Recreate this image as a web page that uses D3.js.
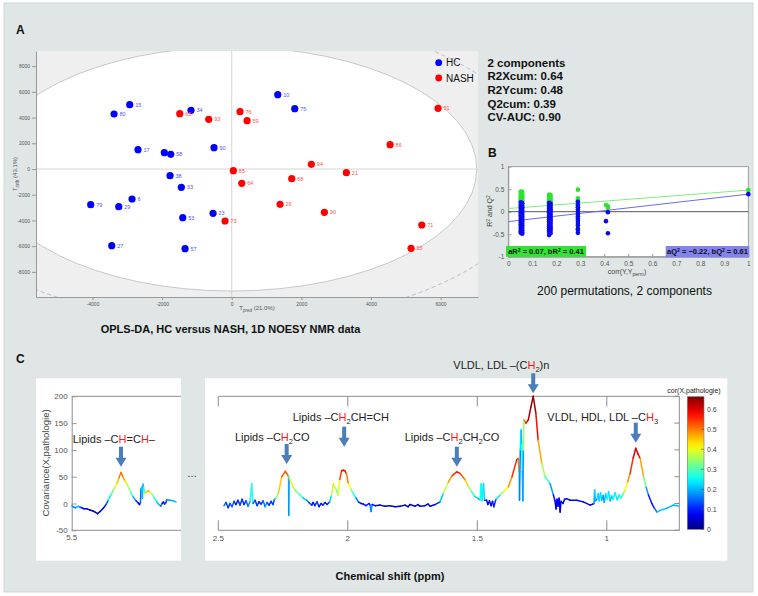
<!DOCTYPE html>
<html><head><meta charset="utf-8">
<script src="https://cdn.jsdelivr.net/npm/d3@7"></script>
<style>body{margin:0;background:#fff}svg{display:block;font-family:"Liberation Sans",Arial,Helvetica,sans-serif}</style>
</head><body><svg id="c" width="758" height="596"></svg>
<script>
// ---------------- DATA ----------------
// Panel A : OPLS-DA scores
const hcIds   = ["15","80","34","17","9","58","90","38","33","6","79","29","53","23","27","57","10","75"];
const hcTpred = [-2931,-3382,-1170,-2693,-1937,-1753,-509,-1773,-1448,-2865,-4052,-3247,-1408,-537,-3448,-1342,1322,1810];
const hcTorth = [5000,4277,4564,1500,1268,1143,1660,-521,-1423,-2333,-2776,-2931,-3787,-3445,-5964,-6197,5778,4689];
const nashIds   = ["65","93","76","59","51","86","94","85","21","68","64","26","30","73","71","55"];
const nashTpred = [-1494,-661,238,440,5928,4549,2287,46,3293,1724,287,1388,2661,-193,5460,5152];
const nashTorth = [4300,3865,4456,3756,4720,1890,365,-132,-288,-754,-1112,-2745,-3367,-4044,-4355,-6166];
const ellipseTpred = [7040, 8940];   // 95%, 99% Hotelling T2 semi-axes
const ellipseTorth = [9487, 12050];
const xTicksA = [-4000,-2000,0,2000,4000,6000];
const yTicksA = [-8000,-6000,-4000,-2000,0,2000,4000,6000,8000];
const statLines = ["2 components","R2Xcum: 0.64","R2Ycum: 0.48","Q2cum: 0.39","CV-AUC: 0.90"];

// Panel B : permutation test
const permX = [0.052, 0.058, 0.170, 0.176, 0.290, 0.407, 0.415, 1.000];
const r2Perm = [
  [0.45,0.42,0.38,0.34,0.30,0.27,0.24,0.21],
  [0.44,0.40,0.36,0.32,0.29,0.25,0.22,0.19],
  [0.38,0.35,0.31,0.27,0.24,0.21,0.18,0.15],
  [0.37,0.33,0.29,0.26,0.22,0.19,0.16],
  [0.49,0.30,0.26,0.22,0.18,0.14,0.10],
  [0.15],
  [0.12,0.09],
  [0.48]
];
const q2Perm = [
  [0.21,0.16,0.12,0.08,0.04,0.0,-0.04,-0.08,-0.12,-0.16,-0.2,-0.24,-0.28,-0.32,-0.36,-0.4,-0.44,-0.47],
  [0.19,0.14,0.1,0.06,0.02,-0.02,-0.06,-0.1,-0.14,-0.18,-0.22,-0.26,-0.3,-0.34,-0.38,-0.42,-0.46,-0.49],
  [0.2,0.15,0.11,0.07,0.03,-0.01,-0.05,-0.09,-0.13,-0.17,-0.21,-0.25,-0.29,-0.33,-0.37,-0.41,-0.45,-0.52],
  [0.18,0.13,0.09,0.05,0.01,-0.03,-0.07,-0.11,-0.15,-0.19,-0.23,-0.27,-0.31,-0.35,-0.39,-0.43,-0.48],
  [0.22,0.15,0.1,0.05,0.0,-0.05,-0.1,-0.15,-0.2,-0.25,-0.3,-0.38,-0.4,-0.47],
  [-0.21],
  [-0.01,-0.48],
  [0.39]
];
const r2Line = [0.07, 0.41];  // intercept, slope
const q2Line = [-0.22, 0.61];
const xTicksB = [0,0.1,0.2,0.3,0.4,0.5,0.6,0.7,0.8,0.9,1];
const yTicksB = [-1,-0.5,0,0.5,1];

// Panel C : covariance spectra (ppm, covariance, correlation)
const ppmLeft = [5.499,5.491,5.485,5.478,5.473,5.466,5.459,5.450,5.438,5.426,5.414,5.405,5.395,5.385,5.372,5.361,5.352,5.341,5.332,5.324,5.316,5.308,5.300,5.292,5.284,5.277,5.267,5.259,5.250,5.239,5.230,5.225,5.221,5.219,5.216,5.213,5.211,5.208,5.203,5.197,5.189,5.182,5.176,5.166,5.155,5.148,5.139,5.133,5.128,5.123,5.117,5.115,5.101,5.089,5.077];
const covLeft = [-4.5,-7,-8,-6,-5,-7,-8,-10,-10,-12,-14,-16,-19,-15,-9,-2,6,16,24,31,38,48,58,50,42,37,28,19,12,5,1,-2,1,28,31,10,36,30,19,21,24,21,19,11,3,-1,-5,0,3,-1,2,7,6,5,3];
const corLeft = [0.15,0.2,0.15,0.2,0.25,0.15,0.1,0.08,0.07,0.07,0.06,0.06,0.05,0.05,0.06,0.08,0.2,0.28,0.33,0.38,0.42,0.48,0.52,0.5,0.45,0.4,0.35,0.3,0.25,0.12,0.08,0.06,0.08,0.22,0.25,0.2,0.2,0.22,0.35,0.45,0.48,0.42,0.38,0.3,0.22,0.2,0.2,0.1,0.08,0.1,0.12,0.15,0.2,0.2,0.2];

const ppmRight = [2.478,2.470,2.462,2.455,2.447,2.439,2.432,2.424,2.416,2.408,2.401,2.393,2.385,2.377,2.371,2.366,2.358,2.350,2.343,2.335,2.327,2.319,2.312,2.304,2.296,2.289,2.283,2.277,2.268,2.255,2.241,2.234,2.229,2.228,2.227,2.222,2.213,2.204,2.184,2.172,2.159,2.150,2.139,2.134,2.127,2.119,2.111,2.103,2.096,2.088,2.080,2.070,2.063,2.056,2.050,2.044,2.037,2.031,2.024,2.017,2.011,2.005,1.998,1.988,1.979,1.968,1.959,1.949,1.940,1.930,1.918,1.914,1.910,1.906,1.894,1.875,1.856,1.837,1.817,1.798,1.779,1.767,1.760,1.740,1.729,1.721,1.702,1.690,1.682,1.663,1.644,1.631,1.612,1.597,1.579,1.566,1.547,1.536,1.522,1.509,1.496,1.489,1.485,1.481,1.476,1.472,1.464,1.459,1.453,1.447,1.441,1.436,1.428,1.412,1.397,1.380,1.366,1.348,1.342,1.339,1.337,1.334,1.331,1.328,1.326,1.324,1.322,1.320,1.312,1.303,1.293,1.284,1.274,1.265,1.251,1.238,1.219,1.206,1.200,1.196,1.192,1.188,1.184,1.180,1.177,1.169,1.163,1.155,1.142,1.116,1.091,1.064,1.049,1.047,1.043,1.036,1.033,1.029,1.024,1.020,1.014,1.010,1.004,0.998,0.993,0.987,0.981,0.976,0.968,0.960,0.952,0.945,0.937,0.929,0.920,0.910,0.898,0.888,0.879,0.871,0.858,0.848,0.839,0.826,0.817,0.806,0.795,0.769,0.743,0.724];
const covRight = [-4,2,-8,0,-6,4,-2,6,-3,8,-2,5,-5,4,37,0,6,-4,3,-1,5,-6,2,-3,4,-2,8,10,19,50,60,55,50,-22,48,44,33,25,16,10,6,2,-3,2,-4,3,-6,0,-3,2,-2,3,15,37,30,25,16,45,61,62,61,55,37,27,19,10,3,0,-1,-4,0,-3,-15,-2,-4,-3,-5,-4,-6,-5,-3,-6,-2,-5,-2,-5,-4,-1,-5,-2,3,19,40,52,59,56,44,33,22,13,9,7,37,5,37,6,6,-2,5,-4,4,-6,8,16,23,31,50,81,84,60,6,100,137,110,60,5,100,156,150,156,180,200,169,118,75,50,37,16,5,-10,8,-5,10,-16,4,0,8,9,6,6,3,-3,0,25,5,10,18,5,20,6,15,2,18,8,22,5,14,8,20,7,16,10,18,25,40,56,85,103,92,84,50,30,16,0,-8,-16,-13,-9,-3,-4.5];
const corRight = [0.2,0.1,0.15,0.08,0.2,0.1,0.12,0.08,0.15,0.1,0.12,0.1,0.2,0.15,0.35,0.2,0.1,0.15,0.08,0.12,0.1,0.22,0.15,0.1,0.12,0.1,0.15,0.3,0.4,0.5,0.55,0.52,0.5,0.05,0.3,0.45,0.4,0.35,0.3,0.25,0.18,0.15,0.1,0.1,0.08,0.15,0.1,0.08,0.12,0.1,0.08,0.15,0.3,0.45,0.4,0.35,0.3,0.5,0.58,0.6,0.58,0.55,0.45,0.38,0.3,0.2,0.12,0.1,0.08,0.1,0.08,0.1,0.25,0.1,0.06,0.05,0.06,0.05,0.06,0.05,0.07,0.05,0.06,0.05,0.07,0.05,0.06,0.07,0.06,0.08,0.12,0.3,0.45,0.52,0.58,0.56,0.48,0.4,0.32,0.25,0.2,0.18,0.35,0.15,0.33,0.12,0.1,0.08,0.1,0.07,0.1,0.08,0.15,0.3,0.38,0.45,0.52,0.58,0.6,0.4,0.08,0.25,0.22,0.2,0.3,0.08,0.3,0.4,0.6,0.62,0.64,0.66,0.63,0.52,0.42,0.3,0.25,0.12,0.06,0.05,0.1,0.05,0.08,0.05,0.08,0.05,0.08,0.1,0.08,0.08,0.07,0.05,0.06,0.3,0.15,0.2,0.28,0.15,0.3,0.15,0.25,0.12,0.28,0.2,0.3,0.15,0.25,0.2,0.3,0.18,0.28,0.25,0.3,0.38,0.45,0.52,0.58,0.62,0.6,0.55,0.4,0.25,0.12,0.08,0.1,0.2,0.22,0.2,0.2,0.2];
const yTicksC = [-50,0,50,100,150,200];
const xTicksCRight = [2.5,2,1.5,1];
const xTicksCLeft = [5.5];
const cbarTicks = [0,0.1,0.2,0.3,0.4,0.5,0.6];
const corMax = 0.663;

// ---------------- DRAWING ----------------
const svg = d3.select("#c");
const RED = "#ee1c1c", ARROW = "#4a7ebb";
svg.append("rect").attr("width",758).attr("height",596).attr("fill","#fff");
svg.append("rect").attr("x",4).attr("y",3).attr("width",749).attr("height",589).attr("fill","#dfe6e5").attr("stroke","#cfd7d6");

function bold(t,x,y,size,anchor){ return svg.append("text").attr("x",x).attr("y",y).attr("font-size",size).attr("font-weight","bold").attr("text-anchor",anchor||"start").attr("fill","#111").text(t); }
bold("A",16,34,12); bold("B",488,157,12); bold("C",16,363,12);

// rich text: parts = [text, kind] with kind in {undefined,'r','sub','sup'}
function rich(t, parts, baseCol, subSize, shift){
  let off = 0;
  parts.forEach(([s,k])=>{
    const target = k==="sub" ? shift : (k==="sup" ? -shift : 0);
    const ts = t.append("tspan").attr("dy", target-off).text(s);
    off = target;
    if(k==="sub"||k==="sup") ts.attr("font-size",subSize);
    ts.attr("fill", k==="r" ? RED : baseCol);
  });
}

// ===== Panel A =====
const xA = d3.scaleLinear().domain([-5624, 7075]).range([36, 478]);
const yA = d3.scaleLinear().domain([-9953, 9176]).range([297, 51]);
const defs = svg.append("defs");
defs.append("clipPath").attr("id","clipA").append("rect").attr("x",36).attr("y",51).attr("width",442).attr("height",246);
const gA = svg.append("g");
gA.append("rect").attr("x",36).attr("y",51).attr("width",442).attr("height",246).attr("fill","#efefef");
const gAc = gA.append("g").attr("clip-path","url(#clipA)");
gAc.append("ellipse").attr("cx",xA(0)).attr("cy",yA(0)).attr("rx",xA(ellipseTpred[1])-xA(0)).attr("ry",yA(0)-yA(ellipseTorth[1]))
  .attr("fill","none").attr("stroke","#b0b0b0").attr("stroke-width",0.8).attr("stroke-dasharray","4,3");
gAc.append("ellipse").attr("cx",xA(0)).attr("cy",yA(0)).attr("rx",xA(ellipseTpred[0])-xA(0)).attr("ry",yA(0)-yA(ellipseTorth[0]))
  .attr("fill","#fff").attr("stroke","#c2c2c2").attr("stroke-width",0.9);
gAc.append("line").attr("x1",36).attr("x2",478).attr("y1",yA(0)).attr("y2",yA(0)).attr("stroke","#d4d4d4");
gAc.append("line").attr("x1",xA(0)).attr("x2",xA(0)).attr("y1",51).attr("y2",297).attr("stroke","#d4d4d4");

function styleAxis(g, size, col){
  g.selectAll("path.domain").attr("stroke","#999");
  g.selectAll(".tick line").attr("stroke","#999");
  g.selectAll("text").attr("font-size",size).attr("fill",col||"#555").attr("font-family",'"Liberation Sans",Arial,sans-serif');
}
const axAy = gA.append("g").attr("transform","translate(36,0)")
  .call(d3.axisLeft(yA).tickValues(yTicksA).tickSizeInner(4).tickSizeOuter(0).tickPadding(2).tickFormat(d=>String(d)));
styleAxis(axAy,5);
const axAx = gA.append("g").attr("transform","translate(0,297)")
  .call(d3.axisBottom(xA).tickValues(xTicksA).tickSizeInner(3).tickSizeOuter(0).tickPadding(2).tickFormat(d=>String(d)));
styleAxis(axAx,5);

rich(gA.append("text").attr("transform","translate(17,174) rotate(-90)").attr("text-anchor","middle").attr("font-size",6),
  [["T"],["orth","sub"],[" (43.1%)"]], "#555", 4.5, 1.5);
rich(gA.append("text").attr("x",257).attr("y",310).attr("text-anchor","middle").attr("font-size",6),
  [["T"],["pred","sub"],[" (21.0%)"]], "#555", 4.5, 1.5);

function drawGroup(ids, xs, ys, col, lab){
  const g = gA.append("g");
  ids.forEach((id,i)=>{
    g.append("circle").attr("cx",xA(xs[i])).attr("cy",yA(ys[i])).attr("r",3.6).attr("fill",col);
    g.append("text").attr("x",xA(xs[i])+5.5).attr("y",yA(ys[i])+2).attr("font-size",5.5).attr("fill",lab).text(id);
  });
}
drawGroup(hcIds, hcTpred, hcTorth, "#0000ff", "#5050ff");
drawGroup(nashIds, nashTpred, nashTorth, "#ff0000", "#ff5050");
// legend
[["HC","#0000ff",62.7],["NASH","#ff0000",78]].forEach(([t,c,y])=>{
  gA.append("circle").attr("cx",438.7).attr("cy",y).attr("r",3.4).attr("fill",c);
  gA.append("text").attr("x",446).attr("y",y+3.6).attr("font-size",10).attr("fill","#111").text(t);
});
statLines.forEach((t,i)=>bold(t,487.5,66.5+i*13.7,11.5));
bold("OPLS-DA, HC versus NASH, 1D NOESY NMR data",230.5,333,11,"middle");

// ===== Panel B =====
const xB = d3.scaleLinear().domain([0,1]).range([508.3,748.3]);
const yB = d3.scaleLinear().domain([-1,1]).range([256.7,166.7]);
const gB = svg.append("g");
gB.append("rect").attr("x",508.3).attr("y",166.7).attr("width",240).attr("height",90).attr("fill","#fff").attr("stroke","#8a8a8a").attr("stroke-width",0.8);
const axBy = gB.append("g").attr("transform","translate(508.3,0)")
  .call(d3.axisLeft(yB).tickValues(yTicksB).tickSizeInner(-3).tickSizeOuter(0).tickPadding(4).tickFormat(d=>String(d)));
styleAxis(axBy,6.5);
const axBx = gB.append("g").attr("transform","translate(0,256.7)")
  .call(d3.axisBottom(xB).tickValues(xTicksB).tickSizeInner(-3).tickSizeOuter(0).tickPadding(5).tickFormat(d=>String(d)));
styleAxis(axBx,6.5);
gB.append("line").attr("x1",xB(0)).attr("x2",xB(1)).attr("y1",yB(0)).attr("y2",yB(0)).attr("stroke","#555").attr("stroke-width",1);
gB.append("line").attr("x1",xB(0)).attr("x2",xB(1)).attr("y1",yB(r2Line[0])).attr("y2",yB(r2Line[0]+r2Line[1])).attr("stroke","#7df07d").attr("stroke-width",1);
gB.append("line").attr("x1",xB(0)).attr("x2",xB(1)).attr("y1",yB(q2Line[0])).attr("y2",yB(q2Line[0]+q2Line[1])).attr("stroke","#6b6bf0").attr("stroke-width",1);
permX.forEach((px,i)=>r2Perm[i].forEach(v=>gB.append("circle").attr("cx",xB(px)).attr("cy",yB(v)).attr("r",2.3).attr("fill","#2be42b")));
permX.forEach((px,i)=>q2Perm[i].forEach(v=>gB.append("circle").attr("cx",xB(px)).attr("cy",yB(v)).attr("r",2.3).attr("fill","#0a0af0")));
rich(gB.append("text").attr("transform","translate(492,211) rotate(-90)").attr("text-anchor","middle").attr("font-size",7),
  [["R"],["2","sup"],[" and Q"],["2","sup"]], "#444", 5, 2.5);
rich(gB.append("text").attr("x",627).attr("y",274).attr("text-anchor","middle").attr("font-size",7),
  [["corr(Y,Y"],["perm","sub"],[")"]], "#444", 5, 1.8);
function legBox(x,y,w,h,fill,parts){
  gB.append("rect").attr("x",x).attr("y",y).attr("width",w).attr("height",h).attr("fill",fill);
  const t = gB.append("text").attr("x",x+w/2).attr("y",y+h/2+2.6).attr("text-anchor","middle").attr("font-size",7.5).attr("font-weight","bold");
  rich(t, parts, "#111", 5, 2.5);
}
legBox(506,246,80,10.8,"#2ee62e",[["aR"],["2","sup"],[" = "+r2Line[0].toFixed(2)+", bR"],["2","sup"],[" = "+r2Line[1].toFixed(2)]]);
legBox(665.7,246,83.6,11.3,"#8282f0",[["aQ"],["2","sup"],[" = \u2212"+Math.abs(q2Line[0]).toFixed(2)+", bQ"],["2","sup"],[" = "+q2Line[1].toFixed(2)]]);
svg.append("text").attr("x",624.5).attr("y",295).attr("text-anchor","middle").attr("font-size",12).attr("fill","#111").text("200 permutations, 2 components");

// ===== Panel C =====
svg.append("rect").attr("x",36).attr("y",378.3).attr("width",145).attr("height",182.4).attr("fill","#fff");
svg.append("rect").attr("x",205).attr("y",378.3).attr("width",522.3).attr("height",182.4).attr("fill","#fff");
const yC = d3.scaleLinear().domain([-50,200]).range([530.3,396.3]);
const xCL = d3.scaleLinear().domain([5.5,5.05]).range([71.7,182.6]);
const xCR = d3.scaleLinear().domain([2.5,0.72]).range([218.3,679.3]);
const jet = t => {
  const c = v => Math.max(0, Math.min(1, v));
  const r = c(Math.min(4*t-1.5, -4*t+4.5)), g = c(Math.min(4*t-0.5, -4*t+3.5)), b = c(Math.min(4*t+0.5, -4*t+2.5));
  return d3.rgb(r*255, g*255, b*255).toString();
};
const colC = d3.scaleSequential(jet).domain([0, corMax]);
const gC = svg.append("g");
const frame = "#8c8c8c";
// left axes
gC.append("line").attr("x1",71.7).attr("x2",181).attr("y1",396.3).attr("y2",396.3).attr("stroke",frame);
gC.append("line").attr("x1",71.7).attr("x2",181).attr("y1",530.3).attr("y2",530.3).attr("stroke",frame);
const axCy = gC.append("g").attr("transform","translate(71.7,0)")
  .call(d3.axisLeft(yC).tickValues(yTicksC).tickSizeInner(-5).tickSizeOuter(0).tickPadding(4).tickFormat(d=>String(d)));
styleAxis(axCy,8,"#555"); axCy.selectAll("path.domain").attr("stroke",frame);
xTicksCLeft.forEach(v=>gC.append("text").attr("x",xCL(v)).attr("y",540).attr("text-anchor","middle").attr("font-size",8).attr("fill","#555").text(String(v)));
svg.append("text").attr("transform","translate(49,463) rotate(-90)").attr("text-anchor","middle").attr("font-size",9.5).attr("fill","#444").text("Covariance(X,pathologie)");
// right axes
gC.append("line").attr("x1",218.3).attr("x2",679.3).attr("y1",396.3).attr("y2",396.3).attr("stroke",frame);
gC.append("line").attr("x1",218.3).attr("x2",679.3).attr("y1",530.3).attr("y2",530.3).attr("stroke",frame);
gC.append("line").attr("x1",679.3).attr("x2",679.3).attr("y1",396.3).attr("y2",530.3).attr("stroke",frame);
xTicksCRight.forEach(v=>{
  gC.append("line").attr("x1",xCR(v)).attr("x2",xCR(v)).attr("y1",396.3).attr("y2",406.3).attr("stroke",frame);
  gC.append("line").attr("x1",xCR(v)).attr("x2",xCR(v)).attr("y1",520.3).attr("y2",530.3).attr("stroke",frame);
  gC.append("text").attr("x",xCR(v)).attr("y",541).attr("text-anchor","middle").attr("font-size",8).attr("fill","#555").text(String(v));
});
yTicksC.forEach(v=>gC.append("line").attr("x1",674.3).attr("x2",679.3).attr("y1",yC(v)).attr("y2",yC(v)).attr("stroke",frame));
gC.append("text").attr("x",192).attr("y",477).attr("text-anchor","middle").attr("font-size",10).attr("fill","#222").text("\u2026");

function drawSpec(ppm, cov, cor, xs){
  const g = gC.append("g").attr("fill","none").attr("stroke-width",1.5).attr("stroke-linecap","round");
  for(let i=0;i<ppm.length-1;i++){
    g.append("line").attr("x1",xs(ppm[i])).attr("y1",yC(cov[i])).attr("x2",xs(ppm[i+1])).attr("y2",yC(cov[i+1]))
     .attr("stroke",colC((cor[i]+cor[i+1])/2));
  }
}
drawSpec(ppmLeft, covLeft, corLeft, xCL);
drawSpec(ppmRight, covRight, corRight, xCR);

// colorbar
const cbY = d3.scaleLinear().domain([0,corMax]).range([529.3,396.7]);
const grad = defs.append("linearGradient").attr("id","jetg").attr("x1",0).attr("y1",1).attr("x2",0).attr("y2",0);
d3.range(0,1.0001,0.05).forEach(t=>grad.append("stop").attr("offset",t).attr("stop-color",jet(t)));
gC.append("rect").attr("x",687.3).attr("y",396.7).attr("width",16.7).attr("height",132.6).attr("fill","url(#jetg)").attr("stroke","#777").attr("stroke-width",0.6);
cbarTicks.forEach(v=>{
  gC.append("line").attr("x1",701).attr("x2",704).attr("y1",cbY(v)).attr("y2",cbY(v)).attr("stroke","#555").attr("stroke-width",0.6);
  gC.append("text").attr("x",707).attr("y",cbY(v)+2.5).attr("font-size",7).attr("fill","#444").text(String(v));
});
gC.append("text").attr("x",694).attr("y",393).attr("text-anchor","middle").attr("font-size",7).attr("fill","#222").text("cor(X,pathologie)");

// annotations
function annot(x, y, parts, ax, ay){
  const t = gC.append("text").attr("x",x).attr("y",y).attr("font-size",11);
  rich(t, parts, "#222", 7.5, 3);
  gC.append("rect").attr("x",ax-2).attr("y",ay).attr("width",4).attr("height",12).attr("fill",ARROW);
  gC.append("path").attr("d",`M${ax-5.5},${ay+11}L${ax+5.5},${ay+11}L${ax},${ay+20}Z`).attr("fill",ARROW);
}
annot(72.7,443,[["Lipids \u2013C"],["H","r"],["=C"],["H","r"],["\u2013"]], xCL(5.30), 446.7);
annot(235,441,[["Lipids \u2013C"],["H","r"],["2","sub"],["CO"]], xCR(2.236), 444);
annot(292.7,420.5,[["Lipids \u2013C"],["H","r"],["2","sub"],["CH=CH"]], xCR(2.014), 426.7);
annot(404.7,441,[["Lipids \u2013C"],["H","r"],["2","sub"],["CH"],["2","sub"],["CO"]], xCR(1.579), 446.7);
annot(453.3,369,[["VLDL, LDL \u2013(C"],["H","r"],["2","sub"],[")n"]], xCR(1.284), 373.3);
annot(547.3,420.5,[["VLDL, HDL, LDL \u2013C"],["H","r"],["3","sub"]], xCR(0.888), 422.7);

bold("Chemical shift (ppm)",390,580,11,"middle");
</script></body></html>
